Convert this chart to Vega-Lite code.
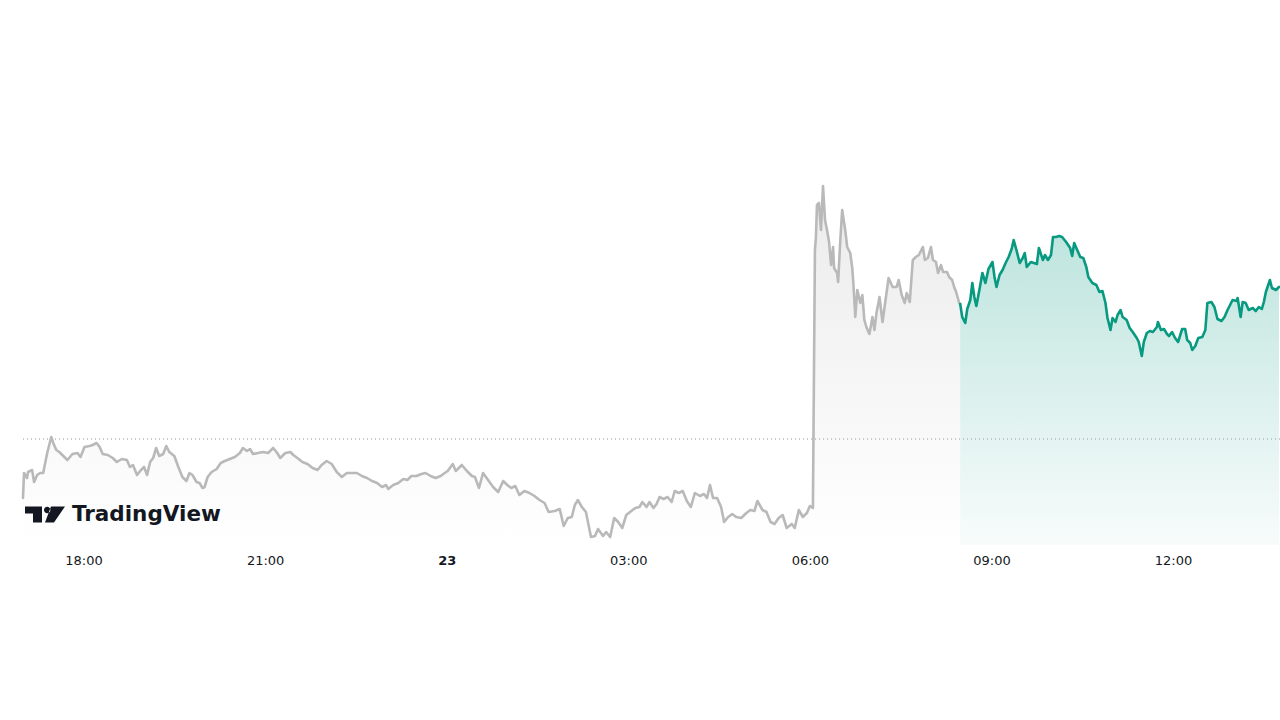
{
 "$schema": "https://vega.github.io/schema/vega-lite/v6.json",
 "width": 1257,
 "height": 445,
 "autosize": {"type": "none"},
 "padding": {"left": 23, "top": 100, "right": 0, "bottom": 175},
 "background": "#ffffff",
 "config": {"view": {"stroke": null}},
 "datasets": {
  "pre": [
   {"t":"2025-01-22T17:00","v":47},{"t":"2025-01-22T17:01","v":72},{"t":"2025-01-22T17:04","v":67},{"t":"2025-01-22T17:05","v":73},{"t":"2025-01-22T17:09","v":75},{"t":"2025-01-22T17:11","v":63},{"t":"2025-01-22T17:14","v":70},{"t":"2025-01-22T17:17","v":72},{"t":"2025-01-22T17:20","v":72},{"t":"2025-01-22T17:24","v":92},{"t":"2025-01-22T17:28","v":108},{"t":"2025-01-22T17:30","v":102},{"t":"2025-01-22T17:33","v":95},{"t":"2025-01-22T17:36","v":93},{"t":"2025-01-22T17:39","v":90},{"t":"2025-01-22T17:44","v":85},{"t":"2025-01-22T17:49","v":91},{"t":"2025-01-22T17:54","v":92},{"t":"2025-01-22T17:57","v":88},
   {"t":"2025-01-22T18:01","v":98},{"t":"2025-01-22T18:06","v":99},{"t":"2025-01-22T18:09","v":100},{"t":"2025-01-22T18:13","v":102},{"t":"2025-01-22T18:16","v":98},{"t":"2025-01-22T18:19","v":91},{"t":"2025-01-22T18:24","v":90},{"t":"2025-01-22T18:29","v":87},{"t":"2025-01-22T18:33","v":83},{"t":"2025-01-22T18:38","v":86},{"t":"2025-01-22T18:43","v":85},{"t":"2025-01-22T18:46","v":78},{"t":"2025-01-22T18:49","v":80},{"t":"2025-01-22T18:53","v":70},{"t":"2025-01-22T18:57","v":75},
   {"t":"2025-01-22T19:00","v":78},{"t":"2025-01-22T19:03","v":70},{"t":"2025-01-22T19:06","v":83},{"t":"2025-01-22T19:09","v":87},{"t":"2025-01-22T19:12","v":97},{"t":"2025-01-22T19:15","v":89},{"t":"2025-01-22T19:19","v":91},{"t":"2025-01-22T19:22","v":99},{"t":"2025-01-22T19:25","v":93},{"t":"2025-01-22T19:30","v":89},{"t":"2025-01-22T19:34","v":78},{"t":"2025-01-22T19:38","v":68},{"t":"2025-01-22T19:42","v":64},{"t":"2025-01-22T19:45","v":72},{"t":"2025-01-22T19:48","v":70},{"t":"2025-01-22T19:52","v":63},{"t":"2025-01-22T19:55","v":62},{"t":"2025-01-22T19:58","v":57},
   {"t":"2025-01-22T20:00","v":58},{"t":"2025-01-22T20:03","v":68},{"t":"2025-01-22T20:07","v":73},{"t":"2025-01-22T20:12","v":76},{"t":"2025-01-22T20:16","v":82},{"t":"2025-01-22T20:20","v":84},{"t":"2025-01-22T20:25","v":86},{"t":"2025-01-22T20:30","v":88},{"t":"2025-01-22T20:35","v":92},{"t":"2025-01-22T20:38","v":97},{"t":"2025-01-22T20:42","v":94},{"t":"2025-01-22T20:45","v":96},{"t":"2025-01-22T20:48","v":91},{"t":"2025-01-22T20:53","v":92},{"t":"2025-01-22T20:58","v":93},
   {"t":"2025-01-22T21:03","v":92},{"t":"2025-01-22T21:08","v":97},{"t":"2025-01-22T21:12","v":92},{"t":"2025-01-22T21:15","v":87},{"t":"2025-01-22T21:20","v":92},{"t":"2025-01-22T21:25","v":93},{"t":"2025-01-22T21:28","v":90},{"t":"2025-01-22T21:32","v":87},{"t":"2025-01-22T21:37","v":83},{"t":"2025-01-22T21:42","v":81},{"t":"2025-01-22T21:47","v":77},{"t":"2025-01-22T21:52","v":75},{"t":"2025-01-22T21:56","v":80},
   {"t":"2025-01-22T22:01","v":84},{"t":"2025-01-22T22:06","v":81},{"t":"2025-01-22T22:11","v":73},{"t":"2025-01-22T22:16","v":68},{"t":"2025-01-22T22:21","v":72},{"t":"2025-01-22T22:26","v":72},{"t":"2025-01-22T22:31","v":72},{"t":"2025-01-22T22:36","v":69},{"t":"2025-01-22T22:41","v":67},{"t":"2025-01-22T22:46","v":64},{"t":"2025-01-22T22:51","v":62},{"t":"2025-01-22T22:56","v":58},
   {"t":"2025-01-22T23:00","v":60},{"t":"2025-01-22T23:02","v":56},{"t":"2025-01-22T23:07","v":60},{"t":"2025-01-22T23:12","v":62},{"t":"2025-01-22T23:17","v":66},{"t":"2025-01-22T23:21","v":65},{"t":"2025-01-22T23:25","v":69},{"t":"2025-01-22T23:30","v":69},{"t":"2025-01-22T23:35","v":71},{"t":"2025-01-22T23:39","v":72},{"t":"2025-01-22T23:44","v":69},{"t":"2025-01-22T23:49","v":67},{"t":"2025-01-22T23:54","v":69},{"t":"2025-01-22T23:58","v":72},
   {"t":"2025-01-23T00:01","v":74},{"t":"2025-01-23T00:06","v":81},{"t":"2025-01-23T00:09","v":74},{"t":"2025-01-23T00:15","v":80},{"t":"2025-01-23T00:20","v":74},{"t":"2025-01-23T00:25","v":69},{"t":"2025-01-23T00:28","v":68},{"t":"2025-01-23T00:32","v":57},{"t":"2025-01-23T00:36","v":72},{"t":"2025-01-23T00:41","v":65},{"t":"2025-01-23T00:46","v":58},{"t":"2025-01-23T00:51","v":53},{"t":"2025-01-23T00:56","v":64},
   {"t":"2025-01-23T01:00","v":60},{"t":"2025-01-23T01:04","v":57},{"t":"2025-01-23T01:08","v":59},{"t":"2025-01-23T01:12","v":50},{"t":"2025-01-23T01:17","v":54},{"t":"2025-01-23T01:22","v":52},{"t":"2025-01-23T01:27","v":49},{"t":"2025-01-23T01:32","v":45},{"t":"2025-01-23T01:37","v":42},{"t":"2025-01-23T01:41","v":33},{"t":"2025-01-23T01:47","v":34},{"t":"2025-01-23T01:52","v":36},{"t":"2025-01-23T01:56","v":19},
   {"t":"2025-01-23T02:00","v":27},{"t":"2025-01-23T02:04","v":28},{"t":"2025-01-23T02:07","v":40},{"t":"2025-01-23T02:10","v":45},{"t":"2025-01-23T02:14","v":38},{"t":"2025-01-23T02:18","v":33},{"t":"2025-01-23T02:23","v":8},{"t":"2025-01-23T02:27","v":9},{"t":"2025-01-23T02:30","v":16},{"t":"2025-01-23T02:35","v":9},{"t":"2025-01-23T02:38","v":13},{"t":"2025-01-23T02:42","v":8},{"t":"2025-01-23T02:46","v":27},{"t":"2025-01-23T02:50","v":23},{"t":"2025-01-23T02:54","v":17},{"t":"2025-01-23T02:58","v":30},
   {"t":"2025-01-23T03:03","v":34},{"t":"2025-01-23T03:07","v":37},{"t":"2025-01-23T03:11","v":38},{"t":"2025-01-23T03:14","v":43},{"t":"2025-01-23T03:18","v":38},{"t":"2025-01-23T03:21","v":43},{"t":"2025-01-23T03:25","v":37},{"t":"2025-01-23T03:28","v":41},{"t":"2025-01-23T03:31","v":48},{"t":"2025-01-23T03:35","v":46},{"t":"2025-01-23T03:39","v":48},{"t":"2025-01-23T03:43","v":43},{"t":"2025-01-23T03:46","v":54},{"t":"2025-01-23T03:50","v":52},{"t":"2025-01-23T03:54","v":54},{"t":"2025-01-23T03:58","v":44},
   {"t":"2025-01-23T04:02","v":38},{"t":"2025-01-23T04:06","v":52},{"t":"2025-01-23T04:11","v":49},{"t":"2025-01-23T04:15","v":51},{"t":"2025-01-23T04:18","v":47},{"t":"2025-01-23T04:21","v":60},{"t":"2025-01-23T04:24","v":47},{"t":"2025-01-23T04:28","v":47},{"t":"2025-01-23T04:32","v":38},{"t":"2025-01-23T04:35","v":23},{"t":"2025-01-23T04:39","v":28},{"t":"2025-01-23T04:43","v":31},{"t":"2025-01-23T04:47","v":28},{"t":"2025-01-23T04:52","v":27},{"t":"2025-01-23T04:57","v":32},
   {"t":"2025-01-23T05:01","v":35},{"t":"2025-01-23T05:05","v":34},{"t":"2025-01-23T05:08","v":44},{"t":"2025-01-23T05:13","v":35},{"t":"2025-01-23T05:17","v":33},{"t":"2025-01-23T05:21","v":23},{"t":"2025-01-23T05:25","v":21},{"t":"2025-01-23T05:29","v":27},{"t":"2025-01-23T05:33","v":30},{"t":"2025-01-23T05:37","v":17},{"t":"2025-01-23T05:42","v":21},{"t":"2025-01-23T05:45","v":17},{"t":"2025-01-23T05:49","v":35},{"t":"2025-01-23T05:53","v":28},{"t":"2025-01-23T05:57","v":32},
   {"t":"2025-01-23T06:00","v":39},{"t":"2025-01-23T06:03","v":37},{"t":"2025-01-23T06:05","v":295},{"t":"2025-01-23T06:06","v":308},{"t":"2025-01-23T06:07","v":340},{"t":"2025-01-23T06:09","v":342},{"t":"2025-01-23T06:11","v":315},{"t":"2025-01-23T06:13","v":359},{"t":"2025-01-23T06:15","v":325},{"t":"2025-01-23T06:17","v":315},{"t":"2025-01-23T06:19","v":303},{"t":"2025-01-23T06:21","v":280},{"t":"2025-01-23T06:23","v":298},{"t":"2025-01-23T06:24","v":277},{"t":"2025-01-23T06:27","v":272},{"t":"2025-01-23T06:28","v":263},{"t":"2025-01-23T06:30","v":302},{"t":"2025-01-23T06:32","v":335},{"t":"2025-01-23T06:35","v":315},{"t":"2025-01-23T06:37","v":298},{"t":"2025-01-23T06:40","v":292},{"t":"2025-01-23T06:42","v":277},{"t":"2025-01-23T06:43","v":263},{"t":"2025-01-23T06:45","v":228},{"t":"2025-01-23T06:47","v":255},{"t":"2025-01-23T06:50","v":242},{"t":"2025-01-23T06:52","v":250},{"t":"2025-01-23T06:54","v":225},{"t":"2025-01-23T06:56","v":218},{"t":"2025-01-23T06:59","v":211},
   {"t":"2025-01-23T07:02","v":228},{"t":"2025-01-23T07:04","v":215},{"t":"2025-01-23T07:06","v":232},{"t":"2025-01-23T07:09","v":248},{"t":"2025-01-23T07:12","v":223},{"t":"2025-01-23T07:15","v":245},{"t":"2025-01-23T07:18","v":267},{"t":"2025-01-23T07:22","v":258},{"t":"2025-01-23T07:26","v":258},{"t":"2025-01-23T07:28","v":265},{"t":"2025-01-23T07:31","v":250},{"t":"2025-01-23T07:34","v":242},{"t":"2025-01-23T07:36","v":252},{"t":"2025-01-23T07:39","v":243},{"t":"2025-01-23T07:42","v":285},{"t":"2025-01-23T07:45","v":288},{"t":"2025-01-23T07:48","v":290},{"t":"2025-01-23T07:52","v":298},{"t":"2025-01-23T07:54","v":285},{"t":"2025-01-23T07:57","v":287},
   {"t":"2025-01-23T08:00","v":298},{"t":"2025-01-23T08:02","v":285},{"t":"2025-01-23T08:05","v":283},{"t":"2025-01-23T08:07","v":272},{"t":"2025-01-23T08:10","v":280},{"t":"2025-01-23T08:12","v":273},{"t":"2025-01-23T08:16","v":273},{"t":"2025-01-23T08:18","v":268},{"t":"2025-01-23T08:21","v":265},{"t":"2025-01-23T08:23","v":258},{"t":"2025-01-23T08:25","v":253},{"t":"2025-01-23T08:28","v":242},{"t":"2025-01-23T08:29","v":241}
  ],
  "main": [
   {"t":"2025-01-23T08:29","v":241},{"t":"2025-01-23T08:31","v":228},{"t":"2025-01-23T08:34","v":222},{"t":"2025-01-23T08:36","v":236},{"t":"2025-01-23T08:39","v":245},{"t":"2025-01-23T08:41","v":262},{"t":"2025-01-23T08:43","v":248},{"t":"2025-01-23T08:45","v":239},{"t":"2025-01-23T08:48","v":255},{"t":"2025-01-23T08:51","v":272},{"t":"2025-01-23T08:54","v":262},{"t":"2025-01-23T08:57","v":276},
   {"t":"2025-01-23T09:01","v":283},{"t":"2025-01-23T09:03","v":268},{"t":"2025-01-23T09:05","v":258},{"t":"2025-01-23T09:08","v":270},{"t":"2025-01-23T09:11","v":275},{"t":"2025-01-23T09:14","v":282},{"t":"2025-01-23T09:17","v":288},{"t":"2025-01-23T09:20","v":296},{"t":"2025-01-23T09:22","v":305},{"t":"2025-01-23T09:25","v":294},{"t":"2025-01-23T09:28","v":282},{"t":"2025-01-23T09:31","v":287},{"t":"2025-01-23T09:33","v":292},{"t":"2025-01-23T09:35","v":278},{"t":"2025-01-23T09:39","v":283},{"t":"2025-01-23T09:42","v":282},{"t":"2025-01-23T09:45","v":281},{"t":"2025-01-23T09:47","v":297},{"t":"2025-01-23T09:51","v":285},{"t":"2025-01-23T09:53","v":290},{"t":"2025-01-23T09:56","v":285},{"t":"2025-01-23T09:59","v":290},
   {"t":"2025-01-23T10:01","v":308},{"t":"2025-01-23T10:04","v":308},{"t":"2025-01-23T10:07","v":309},{"t":"2025-01-23T10:10","v":308},{"t":"2025-01-23T10:14","v":303},{"t":"2025-01-23T10:18","v":297},{"t":"2025-01-23T10:20","v":289},{"t":"2025-01-23T10:22","v":302},{"t":"2025-01-23T10:25","v":295},{"t":"2025-01-23T10:28","v":288},{"t":"2025-01-23T10:31","v":287},{"t":"2025-01-23T10:34","v":278},{"t":"2025-01-23T10:36","v":268},{"t":"2025-01-23T10:40","v":262},{"t":"2025-01-23T10:44","v":260},{"t":"2025-01-23T10:47","v":253},{"t":"2025-01-23T10:50","v":254},{"t":"2025-01-23T10:53","v":242},{"t":"2025-01-23T10:55","v":227},{"t":"2025-01-23T10:58","v":215},
   {"t":"2025-01-23T11:00","v":227},{"t":"2025-01-23T11:03","v":223},{"t":"2025-01-23T11:05","v":230},{"t":"2025-01-23T11:08","v":235},{"t":"2025-01-23T11:10","v":228},{"t":"2025-01-23T11:14","v":225},{"t":"2025-01-23T11:17","v":217},{"t":"2025-01-23T11:20","v":213},{"t":"2025-01-23T11:24","v":207},{"t":"2025-01-23T11:26","v":203},{"t":"2025-01-23T11:29","v":189},{"t":"2025-01-23T11:31","v":203},{"t":"2025-01-23T11:34","v":212},{"t":"2025-01-23T11:37","v":214},{"t":"2025-01-23T11:40","v":213},{"t":"2025-01-23T11:44","v":218},{"t":"2025-01-23T11:45","v":223},{"t":"2025-01-23T11:48","v":215},{"t":"2025-01-23T11:51","v":216},{"t":"2025-01-23T11:54","v":211},{"t":"2025-01-23T11:56","v":209},{"t":"2025-01-23T11:59","v":213},
   {"t":"2025-01-23T12:02","v":207},{"t":"2025-01-23T12:05","v":203},{"t":"2025-01-23T12:09","v":216},{"t":"2025-01-23T12:12","v":216},{"t":"2025-01-23T12:14","v":205},{"t":"2025-01-23T12:17","v":202},{"t":"2025-01-23T12:19","v":195},{"t":"2025-01-23T12:22","v":199},{"t":"2025-01-23T12:25","v":207},{"t":"2025-01-23T12:29","v":208},{"t":"2025-01-23T12:32","v":215},{"t":"2025-01-23T12:34","v":242},{"t":"2025-01-23T12:38","v":243},{"t":"2025-01-23T12:41","v":238},{"t":"2025-01-23T12:44","v":226},{"t":"2025-01-23T12:48","v":224},{"t":"2025-01-23T12:51","v":228},{"t":"2025-01-23T12:54","v":235},{"t":"2025-01-23T12:59","v":245},
   {"t":"2025-01-23T13:03","v":244},{"t":"2025-01-23T13:04","v":247},{"t":"2025-01-23T13:07","v":228},{"t":"2025-01-23T13:09","v":243},{"t":"2025-01-23T13:12","v":242},{"t":"2025-01-23T13:15","v":235},{"t":"2025-01-23T13:19","v":237},{"t":"2025-01-23T13:22","v":234},{"t":"2025-01-23T13:25","v":238},{"t":"2025-01-23T13:28","v":236},{"t":"2025-01-23T13:30","v":243},{"t":"2025-01-23T13:32","v":253},{"t":"2025-01-23T13:36","v":265},{"t":"2025-01-23T13:38","v":257},{"t":"2025-01-23T13:42","v":255},{"t":"2025-01-23T13:45","v":258}
  ]
 },
 "layer": [
  {
   "data": {"name": "pre"},
   "mark": {"type": "area", "color": {"gradient": "linear", "x1": 0, "y1": 0, "x2": 0, "y2": 1, "stops": [{"offset": 0, "color": "#ebebeb"}, {"offset": 1, "color": "#ffffff"}]}},
   "encoding": {
    "x": {"field": "t", "type": "temporal", "scale": {"domain": [{"year": 2025, "month": 1, "date": 22, "hours": 17}, {"year": 2025, "month": 1, "date": 23, "hours": 13, "minutes": 46}], "nice": false},
     "axis": {"values": [{"year": 2025, "month": 1, "date": 22, "hours": 18}, {"year": 2025, "month": 1, "date": 22, "hours": 21}, {"year": 2025, "month": 1, "date": 23, "hours": 0}, {"year": 2025, "month": 1, "date": 23, "hours": 3}, {"year": 2025, "month": 1, "date": 23, "hours": 6}, {"year": 2025, "month": 1, "date": 23, "hours": 9}, {"year": 2025, "month": 1, "date": 23, "hours": 12}],
      "labelExpr": "hours(datum.value) == 0 ? timeFormat(datum.value, '%d') : timeFormat(datum.value, '%H:%M')",
      "labelFontWeight": {"expr": "hours(datum.value) == 0 ? 'bold' : 'normal'"},
      "domain": false, "ticks": false, "tickSize": 0, "grid": false, "labelPadding": 9,
      "labelFont": "DejaVu Sans", "labelFontSize": 13, "labelColor": "#131722", "title": null, "labelFlush": false, "labelOverlap": false}},
    "y": {"field": "v", "type": "quantitative", "scale": {"domain": [0, 445], "nice": false}, "axis": null}
   }
  },
  {
   "data": {"name": "main"},
   "mark": {"type": "area", "color": {"gradient": "linear", "x1": 0, "y1": 0, "x2": 0, "y2": 1, "stops": [{"offset": 0, "color": "rgba(8,153,129,0.26)"}, {"offset": 1, "color": "rgba(8,153,129,0.03)"}]}},
   "encoding": {
    "x": {"field": "t", "type": "temporal"},
    "y": {"field": "v", "type": "quantitative"}
   }
  },
  {
   "data": {"values": [{}]},
   "mark": {"type": "rule", "color": "#9598a1", "strokeDash": [1, 3], "strokeWidth": 1},
   "encoding": {"y": {"datum": 106, "type": "quantitative"}}
  },
  {
   "data": {"name": "pre"},
   "mark": {"type": "line", "color": "#b9b9b9", "strokeWidth": 2.6, "strokeJoin": "round", "strokeCap": "round"},
   "encoding": {
    "x": {"field": "t", "type": "temporal"},
    "y": {"field": "v", "type": "quantitative"}
   }
  },
  {
   "data": {"name": "main"},
   "mark": {"type": "line", "color": "#089981", "strokeWidth": 2.6, "strokeJoin": "round", "strokeCap": "round"},
   "encoding": {
    "x": {"field": "t", "type": "temporal"},
    "y": {"field": "v", "type": "quantitative"}
   }
  },
  {
   "data": {"values": [{}]},
   "mark": {"type": "point", "shape": "M-1,-0.4 L-0.15,-0.4 L-0.15,0.4 L-0.6,0.4 L-0.6,-0.05 L-1,-0.05 Z M-0.05,-0.225 A0.16,0.16 0 1,0 0.27,-0.225 A0.16,0.16 0 1,0 -0.05,-0.225 Z M0.3,-0.4 L1,-0.4 L0.45,0.4 L0,0.4 Z", "size": 1600, "filled": true, "color": "#131722", "opacity": 1, "strokeWidth": 0},
   "encoding": {
    "x": {"datum": {"year": 2025, "month": 1, "date": 22, "hours": 17, "minutes": 21, "seconds": 48}, "type": "temporal"},
    "y": {"datum": 30.5, "type": "quantitative"}
   }
  },
  {
   "data": {"values": [{"label": "TradingView"}]},
   "mark": {"type": "text", "align": "left", "baseline": "alphabetic", "font": "DejaVu Sans", "fontSize": 21.5, "fontWeight": "bold", "color": "#131722"},
   "encoding": {
    "x": {"datum": {"year": 2025, "month": 1, "date": 22, "hours": 17, "minutes": 48, "seconds": 30}, "type": "temporal"},
    "y": {"datum": 24.5, "type": "quantitative"},
    "text": {"field": "label", "type": "nominal"}
   }
  }
 ]
}
